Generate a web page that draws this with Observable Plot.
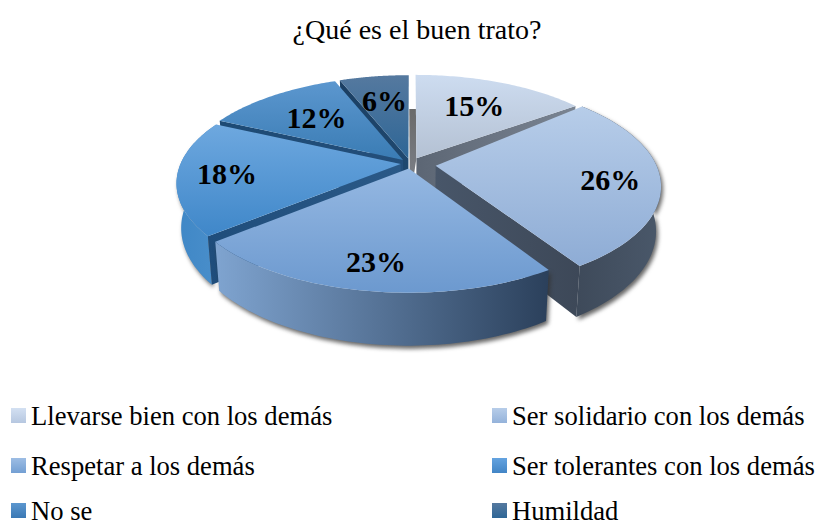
<!DOCTYPE html>
<html lang="es">
<head>
<meta charset="utf-8">
<script src="https://cdn.jsdelivr.net/npm/d3@7"></script>
<script src="https://cdn.jsdelivr.net/npm/@observablehq/plot@0.6"></script>
<style>
html,body{margin:0;padding:0;background:#fff;width:818px;height:526px;overflow:hidden}
body{font-family:"Liberation Serif",serif;color:#000;position:relative}
#title{height:52px;line-height:60px;text-align:center;font-size:28px;padding-left:16px;box-sizing:border-box}
svg{display:block}
#legend{position:absolute;left:0;top:391px;width:818px;font-size:26.6px}
.item{position:absolute;height:50px;line-height:50px;white-space:nowrap}
.sw{position:absolute;left:0;top:17px;width:15px;height:15px}
.lb{position:absolute;left:20px;top:0}
</style>
</head>
<body>
<div id="title"></div>
<div id="chart"></div>
<div id="legend"></div>
<script>
const titleText = "¿Qué es el buen trato?";
const categories = ["Llevarse bien con los demás","Ser solidario con los demás","Respetar a los demás","Ser tolerantes con los demás","No se","Humildad"];
const values = [15,26,23,18,12,6];
const labels = ["15%","26%","23%","18%","12%","6%"];
const explode = [0.06,0.116,0.05,0.045,0.05,0.05];
const startTrim = [0,-5,0,0,0,0];
const labelRadius = [0.65,0.78,0.8,0.78,0.63,0.66];
const topLight = ["#cddcf0","#b7cde9","#95b8e2","#6ea8df","#5c97cf","#55799f"];
const topDark = ["#b4c1d3","#8eacd5","#6c99cf","#3f87c9","#3a7cb4","#2e6696"];
const legendLight = ["#d3e0f2","#b7cde9","#9dbde4","#64a3e0","#5c97cf","#55799f"];
const legendDark = ["#b6c7e0","#94b2da","#739fd3","#4285c6","#3a78b4","#2e6696"];
const wallLeft = ["#5c6674","#485669","#7fa4d0","#1f4d7b","#1d4a74","#1b3f63"];
const wallRight = ["#7a8492","#3d4858","#2b405b","#2b5987","#244f7b","#1f486f"];
const arcLeft = ["#5c6674","#3e4a5a","#7fa4d0","#3f87c6","#2f6b9f","#2f6b9f"];
const arcRight = ["#5c6674","#4a586a","#2b405b","#4a8fcb","#2f6b9f","#2f6b9f"];

const W = 818, H = 339, cx = 410, cy = 111, A = 220, B = 100, k = 0.179, depth = 0.43, shrink = 0.02;
const total = d3.sum(values);
const rad = d => d * Math.PI / 180;
const cum = d3.cumsum(values);
const wedges = values.map((v,i) => {
  const a0 = (cum[i]-v)/total*360, a1 = cum[i]/total*360, mid = (a0+a1)/2;
  return {i, v, a0:a0+startTrim[i], a1, mid, ox:explode[i]*Math.sin(rad(mid)), oy:-explode[i]*Math.cos(rad(mid))};
});
const proj = (X,Y,z=0) => { const w = 1-k*Y; return {x:X/w*(1-shrink*z), y:Y/w + z*depth/w}; };
const at = (w,a,r=1,z=0) => proj(w.ox+r*Math.sin(rad(a)), w.oy-r*Math.cos(rad(a)), z);
const arc = (w,a0,a1,z=0) => d3.range(0,61).map(j => at(w,a0+(a1-a0)*j/60,1,z));
const topFace = w => [at(w,0,0),...arc(w,w.a0,w.a1)];
const arcWall = (w,a0,a1) => [...arc(w,a0,a1),...arc(w,a0,a1,1).reverse()];
const radialWall = (w,a) => [at(w,a,0),at(w,a,1),at(w,a,1,1),at(w,a,0,1)];
const innerWall = w => { const s = 0.03;
  const a = at(w,0,0), b = at(w,0,0.55);
  return [a,b,{x:b.x-s,y:b.y},{x:a.x-s,y:a.y+depth}]; };
const face = (pts,fill) => Plot.line(pts,{x:"x",y:"y",fill,stroke:"none"});
const [w15,w26,w23,w18,w12,w06] = wedges;

const marks = [
  face(innerWall(w15),"url(#inner)"),
  face(radialWall(w15,w15.a1),"url(#wall0)"),
  face(topFace(w15),"url(#top0)"),
  face(arcWall(w26,w26.a0,w26.a1),"url(#arc1)"),
  face(radialWall(w26,w26.a1),"url(#wall1)"),
  face(topFace(w26),"url(#top1)"),
  face(radialWall(w06,w06.a0),"url(#wall5)"),
  face(topFace(w06),"url(#top5)"),
  face(radialWall(w12,w12.a0),"url(#wall4)"),
  face(topFace(w12),"url(#top4)"),
  face(arcWall(w18,w18.a0,w18.a1),"url(#arc3)"),
  face(radialWall(w18,w18.a0),"url(#wall3)"),
  face(topFace(w18),"url(#top3)"),
  face(arcWall(w23,w23.a0,w23.a1),"url(#arc2)"),
  face(topFace(w23),"url(#top2)"),
  Plot.text(wedges,{
    x:w=>at(w,w.mid,labelRadius[w.i]).x,
    y:w=>at(w,w.mid,labelRadius[w.i]).y,
    text:w=>labels[w.i],
    fontSize:30,fontWeight:"bold",fontFamily:"Liberation Serif",fill:"#000"})
];

const plot = Plot.plot({
  width:W,height:H,margin:0,
  x:{domain:[-cx/A,(W-cx)/A],range:[0,W],axis:null},
  y:{domain:[-cy/B,(H-cy)/B],range:[0,H],axis:null},
  style:{background:"transparent",overflow:"visible"},
  marks
});

const defs = d3.select(plot).insert("defs",":first-child");
function grad(id,c0,c1,horizontal){
  const g = defs.append("linearGradient").attr("id",id)
    .attr("x1",0).attr("y1",0).attr("x2",horizontal?1:0).attr("y2",horizontal?0:1);
  g.append("stop").attr("offset",0).attr("stop-color",c0);
  g.append("stop").attr("offset",1).attr("stop-color",c1);
}
values.forEach((v,i)=>{
  grad("top"+i,topLight[i],topDark[i],false);
  grad("wall"+i,wallLeft[i],wallRight[i],true);
  grad("arc"+i,arcLeft[i],arcRight[i],true);
});
grad("inner","#6a6a6a","#80858f",false);
d3.select(plot).selectAll('[fill^="url(#arc"]').style("filter","drop-shadow(2px 3px 2px rgba(50,50,50,.75))");

document.getElementById("title").textContent = titleText;
document.getElementById("chart").append(plot);
const legend = d3.select("#legend");
const colX = [11,492], rowY = [0,50,95];
categories.forEach((c,i)=>{
  const it = legend.append("div").attr("class","item")
    .style("left",colX[i%2]+"px").style("top",rowY[Math.floor(i/2)]+"px");
  it.append("span").attr("class","sw").style("background",`linear-gradient(${legendLight[i]},${legendDark[i]})`);
  it.append("span").attr("class","lb").text(c);
});
</script>
</body>
</html>
